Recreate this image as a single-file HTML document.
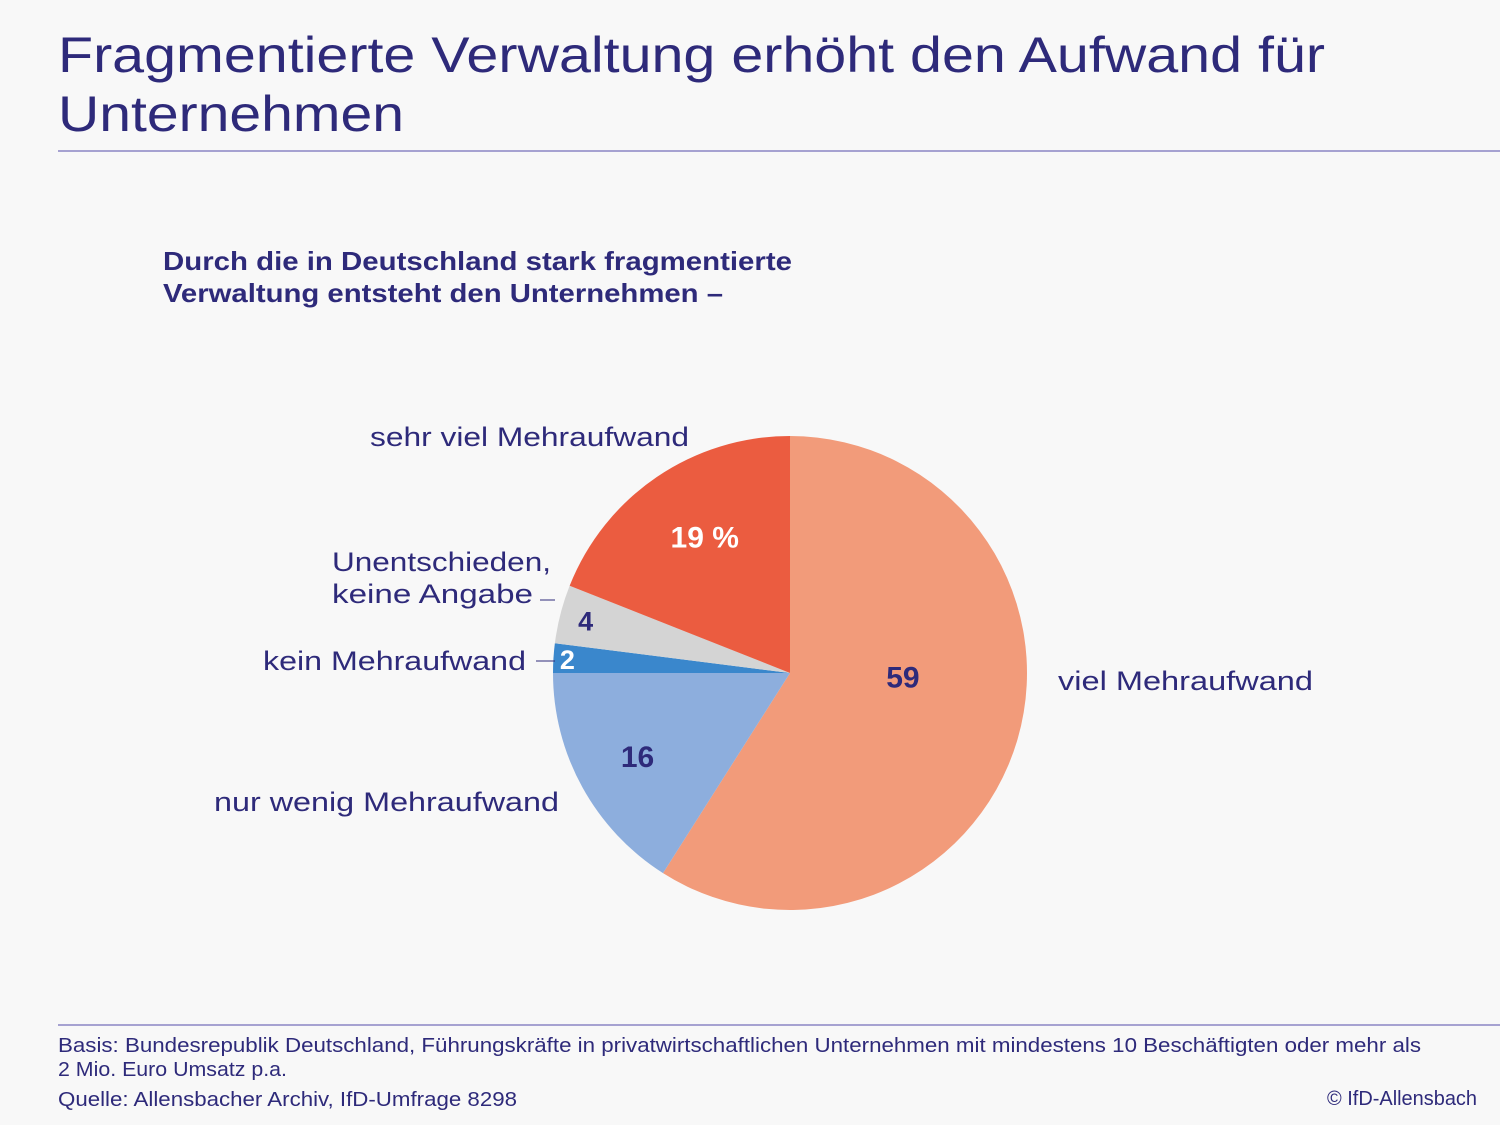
<!DOCTYPE html>
<html><head><meta charset="utf-8"><style>
body{margin:0;background:#f8f8f8;}
svg{display:block;font-family:"Liberation Sans",sans-serif;}
</style></head><body>
<svg width="1500" height="1125" viewBox="0 0 1500 1125">
<rect width="1500" height="1125" fill="#f8f8f8"/>
<text x="58" y="72" font-size="50" fill="#2e2a7a" textLength="1267" lengthAdjust="spacingAndGlyphs">Fragmentierte Verwaltung erhöht den Aufwand für</text>
<text x="58" y="131" font-size="50" fill="#2e2a7a" textLength="346" lengthAdjust="spacingAndGlyphs">Unternehmen</text>
<line x1="58" y1="151" x2="1500" y2="151" stroke="#8a86c4" stroke-width="1.5"/>
<text x="163" y="270" font-size="26" font-weight="bold" fill="#2e2a7a" textLength="629" lengthAdjust="spacingAndGlyphs">Durch die in Deutschland stark fragmentierte</text>
<text x="163" y="302" font-size="26" font-weight="bold" fill="#2e2a7a" textLength="560" lengthAdjust="spacingAndGlyphs">Verwaltung entsteht den Unternehmen –</text>
<g id="pie"></g>
<text x="370" y="446" font-size="27" fill="#2e2a7a" textLength="319" lengthAdjust="spacingAndGlyphs">sehr viel Mehraufwand</text>
<text x="332" y="571" font-size="27" fill="#2e2a7a" textLength="219" lengthAdjust="spacingAndGlyphs">Unentschieden,</text>
<text x="332" y="603" font-size="27" fill="#2e2a7a" textLength="201" lengthAdjust="spacingAndGlyphs">keine Angabe</text>
<line x1="540" y1="600" x2="555" y2="600" stroke="#2e2a7a" stroke-width="1"/>
<text x="263" y="670" font-size="27" fill="#2e2a7a" textLength="263" lengthAdjust="spacingAndGlyphs">kein Mehraufwand</text>
<line x1="536" y1="661" x2="555" y2="661" stroke="#2e2a7a" stroke-width="1"/>
<text x="214" y="811" font-size="27" fill="#2e2a7a" textLength="345" lengthAdjust="spacingAndGlyphs">nur wenig Mehraufwand</text>
<text x="1058" y="690" font-size="27" fill="#2e2a7a" textLength="255" lengthAdjust="spacingAndGlyphs">viel Mehraufwand</text>
<line x1="58" y1="1025" x2="1500" y2="1025" stroke="#8a86c4" stroke-width="1.5"/>
<text x="58" y="1052" font-size="20" fill="#2e2a7a" textLength="1363" lengthAdjust="spacingAndGlyphs">Basis: Bundesrepublik Deutschland, Führungskräfte in privatwirtschaftlichen Unternehmen mit mindestens 10 Beschäftigten oder mehr als</text>
<text x="58" y="1076" font-size="20" fill="#2e2a7a" textLength="229" lengthAdjust="spacingAndGlyphs">2 Mio. Euro Umsatz p.a.</text>
<text x="58" y="1106" font-size="20" fill="#2e2a7a" textLength="459" lengthAdjust="spacingAndGlyphs">Quelle: Allensbacher Archiv, IfD-Umfrage 8298</text>
<text x="1327" y="1105" font-size="20" fill="#2e2a7a" textLength="150" lengthAdjust="spacingAndGlyphs">© IfD-Allensbach</text>
</svg>
<script>
const categories = ["viel Mehraufwand","nur wenig Mehraufwand","kein Mehraufwand","Unentschieden, keine Angabe","sehr viel Mehraufwand"];
const values = [59,16,2,4,19];
const valueLabels = ["59","16","2","4","19 %"];
const colors = ["#f29b7a","#8daedd","#3a87cc","#d4d4d4","#eb5c40"];
const labelColors = ["#2e2a7a","#2e2a7a","#ffffff","#2e2a7a","#ffffff"];
const labelRadius = [113,174,223,211,160];
const labelAngleShift = [-14,0,0,0,2];
const cx=790, cy=673, r=237;
const g=document.getElementById('pie');
const ns="http://www.w3.org/2000/svg";
const total=values.reduce((a,b)=>a+b,0);
function pt(frac,rad){const a=frac*2*Math.PI;return [cx+rad*Math.sin(a),cy-rad*Math.cos(a)];}
let acc=0;
values.forEach((v,i)=>{
  const f0=acc/total, f1=(acc+v)/total; acc+=v;
  const p0=pt(f0,r), p1=pt(f1,r);
  const large=(f1-f0)>0.5?1:0;
  const path=document.createElementNS(ns,'path');
  path.setAttribute('d',`M${cx},${cy} L${p0[0]},${p0[1]} A${r},${r} 0 ${large} 1 ${p1[0]},${p1[1]} Z`);
  path.setAttribute('fill',colors[i]);
  
  
  g.appendChild(path);
  const mid=(f0+f1)/2 + labelAngleShift[i]/360;
  const lp=pt(mid,labelRadius[i]);
  const t=document.createElementNS(ns,'text');
  t.setAttribute('x',lp[0]);t.setAttribute('y',lp[1]+10);
  t.setAttribute('text-anchor','middle');
  t.setAttribute('font-size', v<5?'27':'30');
  t.setAttribute('font-weight','bold');
  t.setAttribute('fill',labelColors[i]);
  t.textContent=valueLabels[i];
  
  
  g.appendChild(t);
});
</script>
</body></html>
